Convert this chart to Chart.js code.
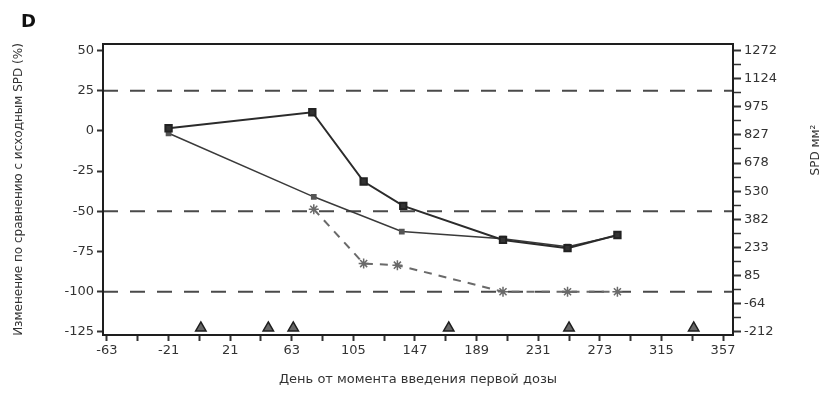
<!DOCTYPE html>
<html>
<head>
<meta charset="utf-8">
<script src="https://cdn.jsdelivr.net/npm/chart.js@4.4.0/dist/chart.umd.min.js"></script>
<style>
  html, body { margin: 0; padding: 0; background: #fff; }
  #wrap { width: 839px; height: 399px; }
</style>
</head>
<body>
<div id="wrap"><canvas id="spdChart"></canvas></div>
<script>
// values
const visitDays = [-21, 77, 112, 139, 207, 251, 285];
const spdSquares = [1.6, 11.6, -31.5, -46.6, -67.8, -72.9, -64.7];

const lowerDays = [-21, 78, 138, 207, 251, 285];
const lowerValues = [-1.5, -41, -62.6, -67, -72, -65];

const dashedDays = [78, 112, 135, 207, 251, 285];
const dashedValues = [-48.7, -82.5, -83.5, -100, -100, -100];

const doseDays = [1, 47, 64, 170, 252, 337];
const doseLevel = -122.5;

const refLines = [25, -50, -100];

const xTickValues = [-63, -42, -21, 0, 21, 42, 63, 84, 105, 126, 147, 168, 189, 210, 231, 252, 273, 294, 315, 336, 357];
const xTickLabels = ["-63", "", "-21", "", "21", "", "63", "", "105", "", "147", "", "189", "", "231", "", "273", "", "315", "", "357"];
const leftTicks = [50, 25, 0, -25, -50, -75, -100, -125];
const rightTicks = [1272, 1124, 975, 827, 678, 530, 382, 233, 85, -64, -212];

const X_MIN = -65.7, X_MAX = 363.8;
const Y_MIN = -126.9, Y_MAX = 54;

// right axis is linked to the left one
const lTop = leftTicks[0], lBot = leftTicks[leftTicks.length - 1];
const rTop = rightTicks[0], rBot = rightTicks[rightTicks.length - 1];
const toRight = (v) => rBot + (v - lBot) * (rTop - rBot) / (lTop - lBot);
const rStep = (rTop - rBot) / (rightTicks.length - 1);

const ink = "#2b2b2b";
const tickFont = { family: "'DejaVu Sans', sans-serif", size: 13 };

function pts(xs, ys) {
  return xs.map((x, i) => ({ x: x, y: ys[i] }));
}

const refSets = refLines.map((v) => ({
  data: [{ x: X_MIN, y: v }, { x: X_MAX, y: v }],
  borderColor: "#4a4a4a",
  borderWidth: 2,
  borderDash: [15, 12],
  pointRadius: 0,
  order: 5,
}));

const decor = {
  id: "decor",
  afterDraw(chart) {
    const { ctx, chartArea } = chart;
    ctx.save();
    ctx.strokeStyle = "#1e1e1e";
    ctx.lineWidth = 2;
    ctx.strokeRect(chartArea.left, chartArea.top, chartArea.right - chartArea.left, chartArea.bottom - chartArea.top);

    ctx.fillStyle = "#111";
    ctx.font = "bold 18px 'DejaVu Sans', sans-serif";
    ctx.textBaseline = "middle";
    ctx.fillText("D", 21, 22);

    // right axis title reads bottom to top
    ctx.translate(816, 150);
    ctx.rotate(-Math.PI / 2);
    ctx.fillStyle = "#333";
    ctx.textAlign = "center";
    ctx.font = "12px 'DejaVu Sans', sans-serif";
    ctx.fillText("SPD мм²", 0, 0);
    ctx.restore();
  },
};

new Chart(document.getElementById("spdChart"), {
  type: "line",
  data: {
    datasets: [
      ...refSets,
      {
        data: pts(dashedDays, dashedValues),
        borderColor: "#6a6a6a",
        borderWidth: 2,
        borderDash: [8, 7],
        pointStyle: "star",
        pointRadius: 5,
        pointBorderColor: "#6a6a6a",
        pointBorderWidth: 1.5,
        order: 3,
      },
      {
        data: pts(lowerDays, lowerValues),
        borderColor: "#3a3a3a",
        borderWidth: 1.5,
        pointStyle: "rect",
        pointRadius: 3,
        pointBackgroundColor: "#555",
        pointBorderColor: "#555",
        order: 2,
      },
      {
        data: pts(visitDays, spdSquares),
        borderColor: ink,
        borderWidth: 2,
        pointStyle: "rect",
        pointRadius: 4.5,
        pointBackgroundColor: "#333",
        pointBorderColor: "#222",
        order: 1,
      },
      {
        data: doseDays.map((d) => ({ x: d, y: doseLevel })),
        showLine: false,
        pointStyle: "triangle",
        pointRadius: 6,
        pointBackgroundColor: "#666",
        pointBorderColor: "#1e1e1e",
        pointBorderWidth: 1.5,
        order: 0,
      },
    ],
  },
  options: {
    responsive: true,
    maintainAspectRatio: false,
    animation: false,
    layout: { padding: { top: 44, left: 0, right: 0, bottom: 0 } },
    plugins: { legend: { display: false }, tooltip: { enabled: false } },
    scales: {
      x: {
        type: "linear",
        min: X_MIN,
        max: X_MAX,
        afterBuildTicks: (scale) => {
          scale.ticks = xTickValues.map((v) => ({ value: v }));
        },
        afterFit: (scale) => { scale.height = 64; },
        ticks: {
          autoSkip: false,
          maxRotation: 0,
          color: "#333",
          font: tickFont,
          padding: 2,
          callback: (v, i) => xTickLabels[i],
        },
        grid: { drawOnChartArea: false, tickLength: 6, tickColor: "#333", tickWidth: 2 },
        border: { display: false },
        title: {
          display: true,
          text: "День от момента введения первой дозы",
          color: "#333",
          font: { family: "'DejaVu Sans', sans-serif", size: 13 },
          padding: { top: 6, bottom: 12 },
        },
      },
      y: {
        type: "linear",
        position: "left",
        min: Y_MIN,
        max: Y_MAX,
        afterBuildTicks: (scale) => {
          scale.ticks = leftTicks.map((v) => ({ value: v }));
        },
        afterFit: (scale) => { scale.width = 103; },
        ticks: { color: "#333", font: tickFont, padding: 3 },
        grid: { drawOnChartArea: false, tickLength: 6, tickColor: "#333", tickWidth: 2 },
        border: { display: false },
        title: {
          display: true,
          text: "Изменение по сравнению с исходным SPD (%)",
          color: "#333",
          font: { family: "'DejaVu Sans', sans-serif", size: 12 },
          padding: { top: 12, bottom: 2 },
        },
      },
      y2: {
        type: "linear",
        position: "right",
        min: toRight(Y_MIN),
        max: toRight(Y_MAX),
        afterBuildTicks: (scale) => {
          const t = [];
          for (let i = 0; i < rightTicks.length; i++) {
            t.push({ value: rBot + i * rStep, major: true });
            if (i < rightTicks.length - 1) t.push({ value: rBot + (i + 0.5) * rStep });
          }
          scale.ticks = t;
        },
        afterFit: (scale) => { scale.width = 106; },
        ticks: {
          autoSkip: false,
          color: "#333",
          font: tickFont,
          padding: 3,
          callback: (v) => {
            const k = Math.round((v - rBot) / rStep * 2);
            return k % 2 === 0 ? String(rightTicks[rightTicks.length - 1 - k / 2]) : "";
          },
        },
        grid: {
          drawOnChartArea: false,
          tickLength: 8,
          tickColor: "#333",
          tickWidth: (c) => (c.tick && c.tick.major ? 2 : 1.5),
        },
        border: { display: false },
      },
    },
  },
  plugins: [decor],
});
</script>
</body>
</html>
